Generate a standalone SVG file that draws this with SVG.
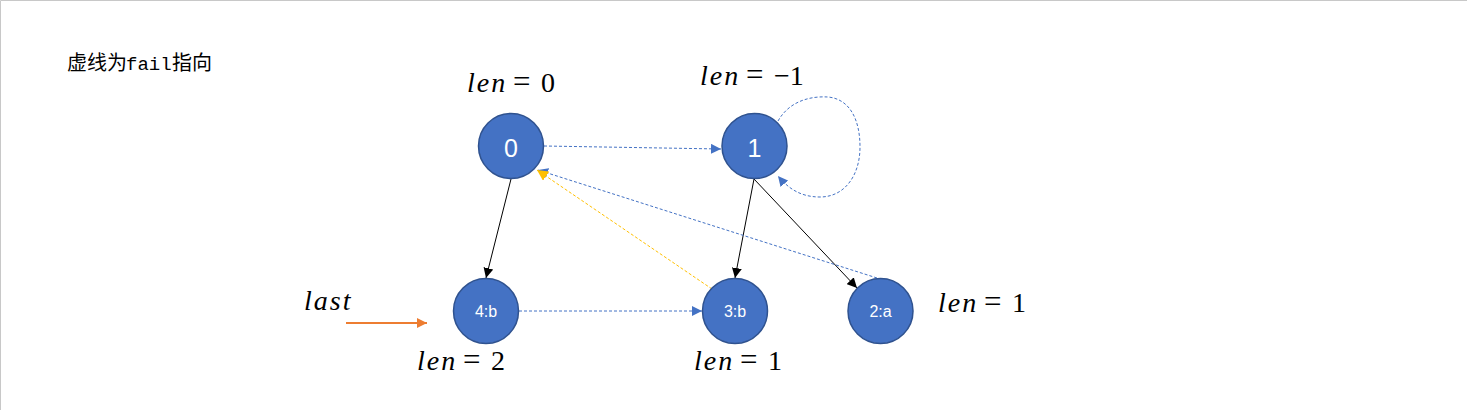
<svg xmlns="http://www.w3.org/2000/svg" width="1467" height="410" viewBox="0 0 1467 410">
<style>
.node{fill:#4472C4;stroke:#2F528F;stroke-width:1.5}
.big{font-family:"Liberation Sans",Arial,sans-serif;font-size:25px;fill:#fff;text-anchor:middle}
.small{font-family:"Liberation Sans",Arial,sans-serif;font-size:16px;fill:#fff;text-anchor:middle}
.math{font-family:"Liberation Serif","Times New Roman",serif;font-size:28px;fill:#000}
.it{font-style:italic;letter-spacing:2px}
.eq{font-size:31px}
.solid{stroke:#000;stroke-width:1;fill:none}
.dash{stroke:#4472C4;stroke-width:1;stroke-dasharray:3 2;fill:none}
.ydash{stroke:#FFC000;stroke-width:1;stroke-dasharray:3 2;fill:none}
.orange{stroke:#ED7D31;stroke-width:2;fill:none}
</style>
<defs>
<marker id="ab" viewBox="0 0 10 10" refX="10" refY="5" markerWidth="10" markerHeight="10" markerUnits="userSpaceOnUse" orient="auto"><path d="M0 0L10 5L0 10z" fill="#000"/></marker>
<marker id="abl" viewBox="0 0 10 10" refX="10" refY="5" markerWidth="10" markerHeight="10" markerUnits="userSpaceOnUse" orient="auto"><path d="M0 0L10 5L0 10z" fill="#4472C4"/></marker>
<marker id="ay" viewBox="0 0 10 10" refX="10" refY="5" markerWidth="11" markerHeight="11" markerUnits="userSpaceOnUse" orient="auto"><path d="M0 0L10 5L0 10z" fill="#FFC000"/></marker>
<marker id="ao" viewBox="0 0 10 10" refX="10" refY="5" markerWidth="10" markerHeight="10" markerUnits="userSpaceOnUse" orient="auto"><path d="M0 0L10 5L0 10z" fill="#ED7D31"/></marker>
</defs>
<rect x="0" y="0" width="1467" height="410" fill="#fff"/>
<path d="M0.5 410V0.5H1467" stroke="#c8c8c8" stroke-width="1" fill="none"/>

<text x="67" y="70" font-size="20" font-family="'Noto Sans CJK SC',sans-serif" fill="#000">虚线为<tspan x="126" font-family="'Liberation Mono',monospace" font-size="19">fail</tspan><tspan x="172">指向</tspan></text>

<g id="connectors">
<path class="dash" d="M544 146L721 149" marker-end="url(#abl)"/>
<path class="dash" d="M778 121C790 100 812 96 828 97C850 99 860 120 860 147C860 175 845 197 820 197C800 197 788 188 778 176" marker-end="url(#abl)"/>
<path class="solid" d="M511 179L486 278" marker-end="url(#ab)"/>
<path class="solid" d="M754 179L735 278" marker-end="url(#ab)"/>
<path class="solid" d="M754 179L857 288" marker-end="url(#ab)"/>
<path class="dash" d="M877 278L538 170" marker-end="url(#abl)"/>
<path class="ydash" d="M712 289L537 170" marker-end="url(#ay)"/>
<path class="dash" d="M519 311L702 311" marker-end="url(#abl)"/>
<path class="orange" d="M346 323L427 323" marker-end="url(#ao)"/>
</g>

<g id="node0"><circle class="node" cx="511" cy="146" r="32.5"/><text class="big" x="511" y="157">0</text></g>
<g id="node1"><circle class="node" cx="754.5" cy="146" r="32.5"/><text class="big" x="754.5" y="157">1</text></g>
<g id="node4"><circle class="node" cx="486" cy="311" r="32.5"/><text class="small" x="486" y="317">4:b</text></g>
<g id="node3"><circle class="node" cx="735" cy="311" r="32.5"/><text class="small" x="735" y="317">3:b</text></g>
<g id="node2"><circle class="node" cx="880.5" cy="311" r="32.5"/><text class="small" x="880.5" y="317">2:a</text></g>

<g id="labels">
<text class="math" y="92"><tspan class="it" x="467">len</tspan><tspan class="eq" x="513">=</tspan><tspan x="541">0</tspan></text>
<text class="math" y="85"><tspan class="it" x="700">len</tspan><tspan class="eq" x="746">=</tspan><tspan x="774">−1</tspan></text>
<text class="math" y="310"><tspan class="it" x="304">last</tspan></text>
<text class="math" y="370"><tspan class="it" x="417">len</tspan><tspan class="eq" x="463">=</tspan><tspan x="491">2</tspan></text>
<text class="math" y="370"><tspan class="it" x="694">len</tspan><tspan class="eq" x="740">=</tspan><tspan x="768">1</tspan></text>
<text class="math" y="312"><tspan class="it" x="938">len</tspan><tspan class="eq" x="984">=</tspan><tspan x="1012">1</tspan></text>
</g>
</svg>
